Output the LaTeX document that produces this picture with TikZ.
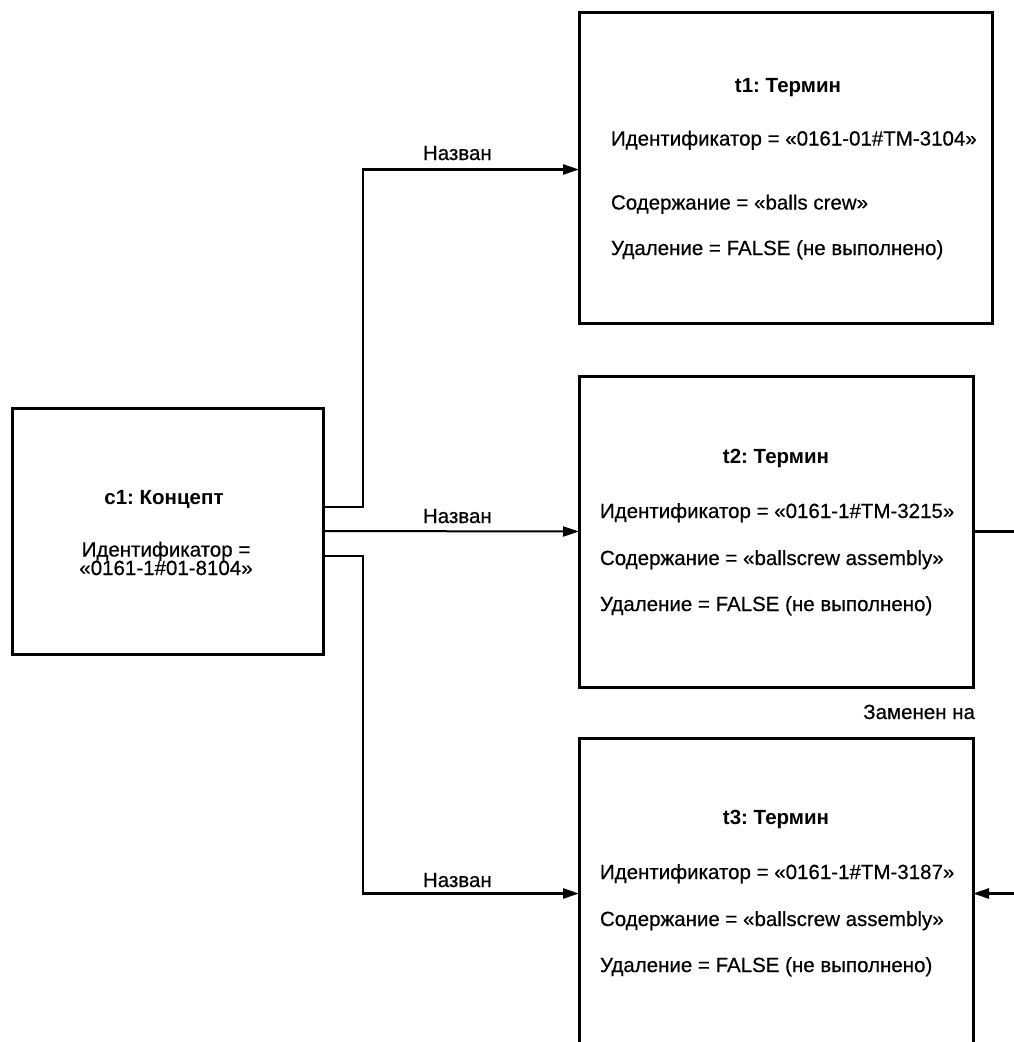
\documentclass[tikz,border=0pt]{standalone}
\usepackage{fontspec}
\setmainfont{Liberation Sans}[UprightFeatures={FakeBold=0.5}]
\usetikzlibrary{arrows.meta}
\begin{document}
\frenchspacing
\begin{tikzpicture}[x=1pt,y=-1pt,
  box/.style={draw, line width=3pt, inner sep=0pt, outer sep=0pt},
  txt/.style={inner sep=0pt, outer sep=0pt, font=\fontsize{20.5}{20.5}\selectfont},
  ttl/.style={inner sep=0pt, outer sep=0pt, font=\fontsize{20.5}{20.5}\selectfont\bfseries},
  conn/.style={line width=2.5pt, -{Triangle[length=16pt,width=10pt]}},
  thinconn/.style={conn, line width=2pt}
]
\useasboundingbox (0,0) rectangle (1014,1042);
\clip (0,0) rectangle (1014,1042);

% boxes
\node[box, minimum width=311pt, minimum height=246pt] (c1) at (167.5,531) {};
\node[box, minimum width=413pt, minimum height=311pt] (t1) at (785.5,167.5) {};
\node[box, minimum width=394pt, minimum height=311pt] (t2) at (776,531.5) {};
\node[box, minimum width=394pt, minimum height=311pt] (t3) at (776,893.5) {};

% connectors
\coordinate (b1) at (363,507);
\coordinate (b2) at (363,556);
\coordinate (far) at (1040,531.5);
\draw[conn] ([yshift=24pt]c1.east) -- (b1) |- ([yshift=-2pt]t1.west);
\draw[thinconn] (c1.east) -- (t2.west);
\draw[conn] ([yshift=-25pt]c1.east) -- (b2) |- (t3.west);
\draw[conn] (t2.east) -- (far) |- (t3.east);

% connector labels
\node[txt, anchor=base west] (l1) at (423,160) {Назван};
\node[txt, anchor=base west] (l2) at (423,523) {Назван};
\node[txt, anchor=base west] (l3) at (423,887) {Назван};
\node[txt, anchor=base east] (l4) at (975,719) {Заменен на};

% c1 text
\node[ttl, anchor=base] (c1t) at (164,504) {c1: Концепт};
\node[txt, anchor=base] (c1a) at (166,556.5) {Идентификатор =};
\node[txt, anchor=base] (c1b) at (166,575) {«0161-1\#01-8104»};

% t1 text
\node[ttl, anchor=base] (t1t) at (788,92.5) {t1: Термин};
\node[txt, anchor=base west] (t1a) at (611,145.5) {Идентификатор = «0161-01\#TM-3104»};
\node[txt, anchor=base west] (t1b) at (611,209.5) {Содержание = «balls crew»};
\node[txt, anchor=base west] (t1c) at (611,255) {Удаление = FALSE (не выполнено)};

% t2 text
\node[ttl, anchor=base] (t2t) at (776,463) {t2: Термин};
\node[txt, anchor=base west] (t2a) at (600,518) {Идентификатор = «0161-1\#TM-3215»};
\node[txt, anchor=base west] (t2b) at (600,565) {Содержание = «ballscrew assembly»};
\node[txt, anchor=base west] (t2c) at (600,611) {Удаление = FALSE (не выполнено)};

% t3 text
\node[ttl, anchor=base] (t3t) at (776,824) {t3: Термин};
\node[txt, anchor=base west] (t3a) at (600,879) {Идентификатор = «0161-1\#TM-3187»};
\node[txt, anchor=base west] (t3b) at (600,926) {Содержание = «ballscrew assembly»};
\node[txt, anchor=base west] (t3c) at (600,972) {Удаление = FALSE (не выполнено)};
\end{tikzpicture}
\end{document}
